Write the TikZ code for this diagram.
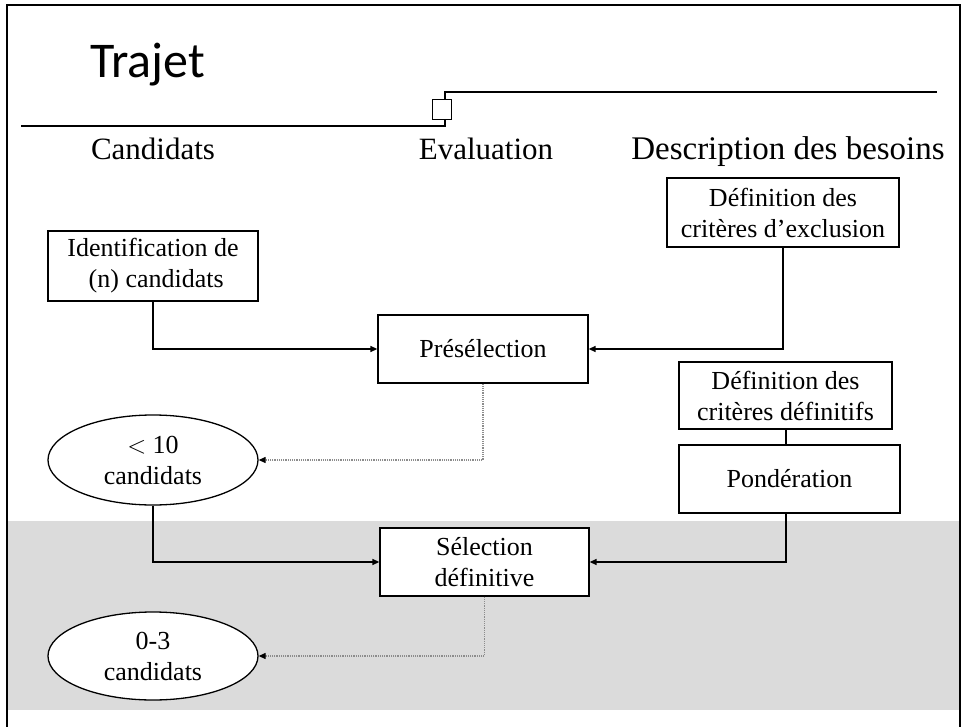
\documentclass[tikz,border=0pt]{standalone}
\usepackage{fontspec}
\setmainfont{Liberation Serif}
\newfontfamily\titlefont{Carlito}
\usetikzlibrary{arrows.meta,shapes.geometric}
\begin{document}
\begin{tikzpicture}[x=1pt,y=-1pt,
  boxnode/.style={draw=black,line width=1.3pt,fill=white,inner sep=0pt,align=center,
    font=\fontsize{26}{31}\selectfont},
  ellnode/.style={draw=black,line width=1.3pt,fill=white,ellipse,inner sep=0pt,align=center,
    font=\fontsize{26}{31}\selectfont},
  headtext/.style={font=\fontsize{31}{36}\selectfont,anchor=base,inner sep=0pt},
  conn/.style={line width=1.4pt,-{Triangle[length=7pt,width=6pt]}},
  lightconn/.style={line width=1.2pt,draw=black!45,densely dotted,-{Triangle[length=7pt,width=6pt,color=black,fill=black]}},
  plainline/.style={line width=1.8pt}]
\useasboundingbox (0,0) rectangle (963,727);
% shaded band
\fill[black!14] (7,521) rectangle (960,710);
% frame
\draw[line width=2.2pt] (7,727) -- (7,5) -- (960,5) -- (960,727);
% title
\node[anchor=west,inner sep=0pt,font=\titlefont\fontsize{50}{56}\selectfont] (title) at (90,65) {Trajet};
% timeline
\node[draw=black,line width=1.3pt,minimum width=19pt,minimum height=20pt,inner sep=0pt] (mark) at (442,109.5) {};
\coordinate (lstart) at (21,126);
\coordinate (rend) at (937,92);
\draw[plainline] (lstart) -- (445,126) -- (445,119.5);
\draw[plainline] (445,99.5) -- (445,92) -- (rend);
% headers
\node[headtext] (hcand) at (153,160) {Candidats};
\node[headtext] (heval) at (486,160) {Evaluation};
\node[headtext,font=\fontsize{33}{38}\selectfont] (hdesc) at (788,160) {Description des besoins};
% boxes
\node[boxnode,minimum width=232pt,minimum height=69pt] (excl) at (783,212.5) {Définition des\\critères d’exclusion};
\node[boxnode,minimum width=210pt,minimum height=70pt] (ident) at (153,266) {Identification de\\\ (n) candidats};
\node[boxnode,minimum width=210pt,minimum height=68pt] (presel) at (483,349) {Présélection};
\node[boxnode,minimum width=213pt,minimum height=67pt] (def) at (785.5,395.5) {Définition des\\critères définitifs};
\node[boxnode,minimum width=221pt,minimum height=68pt] (pond) at (789.5,479) {Pondération};
\node[ellnode,minimum width=210pt,minimum height=90pt] (e10) at (153,460) {$<$ 10\\candidats};
\node[boxnode,minimum width=209pt,minimum height=68pt] (sel) at (484.5,562) {Sélection\\définitive};
\node[ellnode,minimum width=210pt,minimum height=88pt] (e03) at (153,656) {0-3\\candidats};
% connectors
\coordinate (vx) at (786,0);
\draw[conn] (ident.south) |- (presel.west);
\draw[conn] (excl.south) |- (presel.east);
\draw[lightconn] (presel.south) |- (e10.east);
\draw[line width=1.3pt] (def.south -| vx) -- (pond.north -| vx);
\draw[conn] (e10.south) |- (sel.west);
\draw[conn] (pond.south -| vx) |- (sel.east);
\draw[lightconn] (sel.south) |- (e03.east);
\end{tikzpicture}
\end{document}
